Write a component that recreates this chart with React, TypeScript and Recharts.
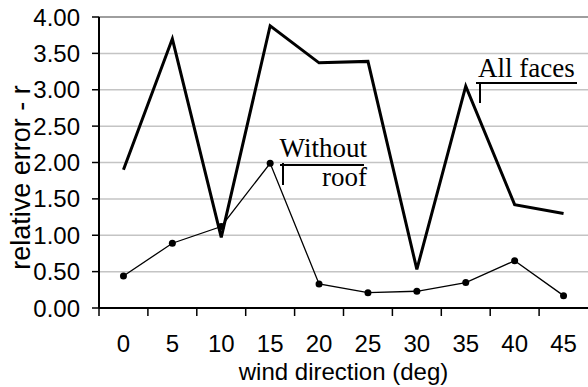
import React from 'react';
import {
  LineChart,
  Line,
  XAxis,
  YAxis,
  CartesianGrid,
  ReferenceLine,
} from 'recharts';

// wind direction categories (deg)
const directions = ['0', '5', '10', '15', '20', '25', '30', '35', '40', '45'];
// relative error r, all faces
const allFaces = [1.9, 3.7, 0.97, 3.88, 3.37, 3.39, 0.53, 3.05, 1.42, 1.3];
// relative error r, without roof
const withoutRoof = [0.44, 0.89, 1.12, 1.99, 0.33, 0.21, 0.23, 0.35, 0.65, 0.17];
const yTicks = [0, 0.5, 1, 1.5, 2, 2.5, 3, 3.5, 4];

const chartData = directions.map((d, i) => ({
  dir: d,
  all: allFaces[i],
  roof: withoutRoof[i],
}));

const SANS = '"Liberation Sans", Arial, sans-serif';
const SERIF = '"Liberation Serif", "Times New Roman", serif';

// Excel style: tick marks between categories, labels at the centre
const XTick = (props: any) => {
  const { x, y, payload } = props;
  const half = payload.offset || 0;
  return (
    <g>
      <line x1={x - half} x2={x - half} y1={y - 8} y2={y} stroke="#000" strokeWidth={1.5} />
      <text x={x} y={y + 36} textAnchor="middle" fontFamily={SANS} fontSize={24} fill="#000">
        {payload.value}
      </text>
    </g>
  );
};

const YLabel = (props: any) => {
  const { viewBox } = props;
  const cx = viewBox.x + 30;
  const cy = viewBox.y + viewBox.height / 2 + 15;
  return (
    <text
      x={cx}
      y={cy}
      transform={`rotate(-90, ${cx}, ${cy})`}
      textAnchor="middle"
      fontFamily={SANS}
      fontSize={27}
      fill="#000"
    >
      relative error - r
    </text>
  );
};

export default function App() {
  return (
    <div style={{ position: 'relative', width: 588, height: 387, background: '#fff' }}>
      <style>{`body{margin:0}`}</style>
      <LineChart
        width={588}
        height={387}
        data={chartData}
        margin={{ top: 17, right: 0, left: 0, bottom: 0 }}
      >
        <CartesianGrid vertical={false} stroke="#c4c4c4" strokeWidth={1.5} />
        <ReferenceLine y={4} stroke="#8c8c8c" strokeWidth={1.5} />
        <XAxis
          dataKey="dir"
          scale="band"
          height={79}
          axisLine={{ stroke: '#000', strokeWidth: 2 }}
          tickLine={{ stroke: 'none' }}
          tickSize={8}
          tickMargin={0}
          tick={<XTick />}
          interval={0}
          label={{
            value: 'wind direction (deg)',
            position: 'insideBottom',
            offset: 7,
            fontFamily: SANS,
            fontSize: 24,
            fill: '#000',
          }}
        />
        <YAxis
          width={99}
          domain={[0, 4]}
          ticks={yTicks}
          interval={0}
          tickFormatter={(v: number) => v.toFixed(2)}
          axisLine={{ stroke: '#000', strokeWidth: 2 }}
          tickLine={{ stroke: '#000', strokeWidth: 1.5 }}
          tickSize={7}
          tickMargin={12}
          tick={{ fontFamily: SANS, fontSize: 24, fill: '#000' }}
          label={<YLabel />}
        />
        <Line
          dataKey="all"
          type="linear"
          stroke="#000"
          strokeWidth={3}
          dot={false}
          isAnimationActive={false}
        />
        <Line
          dataKey="roof"
          type="linear"
          stroke="#000"
          strokeWidth={1.3}
          dot={{ r: 3.5, fill: '#000', stroke: '#000', strokeWidth: 0 }}
          isAnimationActive={false}
        />
      </LineChart>
      <svg
        width={588}
        height={387}
        style={{ position: 'absolute', left: 0, top: 0, pointerEvents: 'none' }}
      >
        <g fontFamily={SERIF} fontSize={27} fill="#000">
          <text x={367} y={157} textAnchor="end">Without</text>
          <text x={367} y={186} textAnchor="end">roof</text>
          <text x={478} y={77}>All faces</text>
        </g>
        <g stroke="#000" strokeWidth={2}>
          <line x1={280} y1={165} x2={364} y2={165} />
          <line x1={283} y1={163} x2={283} y2={185} />
          <line x1={476} y1={83} x2={577} y2={83} />
          <line x1={480} y1={82} x2={480} y2={103} />
        </g>
      </svg>
    </div>
  );
}
